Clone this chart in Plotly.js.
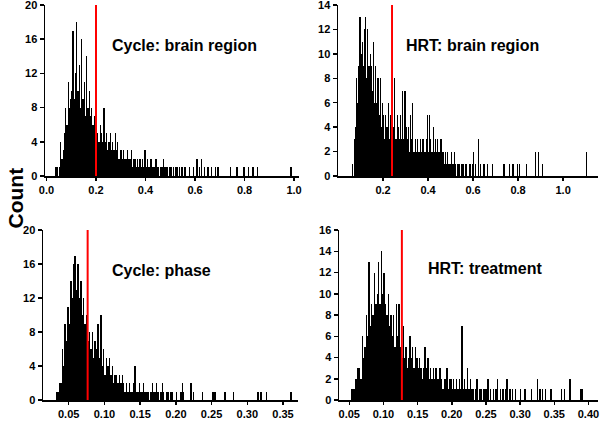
<!DOCTYPE html>
<html>
<head>
<meta charset="utf-8">
<script src="https://cdn.plot.ly/plotly-3.0.1.min.js"></script>
<style>html,body{margin:0;padding:0;background:#fff;}#chart{width:600px;height:421px;}</style>
</head>
<body>
<div id="chart"></div>
<script>
// Panel titles
const panelTitles = ["Cycle: brain region", "HRT: brain region", "Cycle: phase", "HRT: treatment"];
// Histogram bin definitions (left edge of first bin, bin width)
const binStarts = [0.035, 0.060, 0.030, 0.050];
const binWidths = [0.005, 0.005, 0.002, 0.002];
// Counts per bin
const countsCycleRegion = [
  1,1,0,1,4,2,3,5,8,6,
  11,8,9,10,17,9,12,18,10,13,
  8,16,9,11,7,14,8,10,7,8,
  6,7,5,6,5,4,6,5,4,8,
  4,5,3,4,5,3,4,3,5,3,
  4,2,3,3,2,3,2,2,3,2,
  2,3,1,2,2,1,2,1,2,1,
  2,1,3,1,2,1,1,2,1,1,
  1,2,1,1,0,1,1,2,1,1,
  1,0,1,1,0,1,0,1,1,0,
  1,0,1,0,1,1,0,0,1,0,
  0,1,0,0,2,0,1,0,2,0,
  1,0,0,1,0,0,1,0,0,1,
  0,1,0,0,0,0,0,0,0,0,
  0,1,0,0,0,0,1,1,0,0,
  0,0,1,0,0,0,1,0,0,1,
  1,0,0,1,0,0,0,0,0,0,
  0,0,0,0,0,0,0,0,0,0,
  0,0,0,0,0,0,0,0,0,0,
  1
];
const countsHrtRegion = [
  1,0,3,4,8,6,9,13,10,11,
  9,12,13,8,12,9,10,9,7,11,
  6,9,6,8,5,8,4,6,5,3,
  5,4,6,3,5,4,2,4,8,3,
  5,4,3,5,3,7,3,7,4,3,
  4,2,5,3,6,2,3,2,3,2,
  2,3,2,3,2,2,3,5,2,5,
  3,2,4,2,3,2,3,2,2,3,
  2,2,1,2,1,2,1,1,2,1,
  1,2,1,0,1,1,0,1,1,1,
  0,1,1,0,1,1,0,1,2,0,
  1,0,3,0,1,0,0,1,1,0,
  1,0,0,0,0,1,0,0,0,0,
  0,0,0,0,0,1,0,0,0,0,
  1,0,0,1,0,0,0,1,0,1,
  0,0,0,0,0,1,0,0,0,0,
  0,0,0,2,0,0,2,0,0,1,
  0,0,0,0,0,0,0,0,0,0,
  0,0,0,0,0,0,0,0,0,0,
  0,0,0,0,0,0,0,0,0,0,
  0,0,0,0,0,0,0,0,2
];
const countsCyclePhase = [
  0,1,1,2,2,6,4,9,7,11,
  9,14,12,16,17,13,16,12,14,10,
  12,9,10,7,8,6,8,5,7,6,
  9,5,10,4,6,3,5,4,5,3,
  4,2,3,3,2,3,2,3,2,1,
  2,1,2,1,1,2,4,1,1,2,
  1,1,2,1,1,1,0,1,2,1,
  1,2,1,0,1,2,1,0,1,1,
  0,1,1,0,0,1,0,0,1,2,
  1,0,0,0,0,2,0,1,0,0,
  0,0,0,1,0,0,0,0,0,0,
  1,1,1,0,0,0,0,0,0,1,
  0,0,0,0,0,1,0,0,0,0,
  0,0,0,0,0,0,0,0,0,0,
  0,0,1,0,1,0,0,0,1,0,
  0,0,0,0,0,0,0,0,0,0,
  0,0,0,0,0,1
];
const countsHrtTreatment = [
  0,1,1,1,2,2,3,3,2,6,
  4,5,8,6,13,7,9,8,12,9,
  10,13,9,14,10,12,9,8,10,7,
  8,6,8,5,9,6,9,5,4,7,
  4,5,3,4,6,4,5,3,5,4,
  3,4,3,2,3,5,3,4,2,3,
  2,3,2,3,2,2,3,2,1,2,
  2,3,1,2,2,1,2,1,2,1,
  2,1,7,1,2,1,3,1,2,1,
  1,0,1,2,0,1,1,0,1,1,
  1,2,0,1,0,1,0,1,2,0,
  1,0,1,0,1,2,0,1,0,1,
  0,1,0,0,0,1,0,0,1,0,
  0,0,0,1,0,0,0,2,0,1,
  0,1,0,1,0,0,0,1,0,0,
  0,0,0,0,0,1,0,1,0,0,
  0,2,0,0,0,0,0,0,0,1,1
];
const allCounts = [countsCycleRegion, countsHrtRegion, countsCyclePhase, countsHrtTreatment];
// Red reference lines (x values)
const redLines = [0.200, 0.240, 0.0765, 0.127];
// Axis settings
const xRanges = [[-0.006, 1.02], [0, 1.155], [0.014, 0.371], [0.035, 0.414]];
const yMax = [20, 14, 20, 16];
const yDtick = [4, 2, 4, 2];
const xTickVals = [[0, 0.2, 0.4, 0.6, 0.8, 1.0], [0.2, 0.4, 0.6, 0.8, 1.0],
                   [0.05, 0.10, 0.15, 0.20, 0.25, 0.30, 0.35], [0.05, 0.10, 0.15, 0.20, 0.25, 0.30, 0.35, 0.40]];
const xTickFmt = ['.1f', '.1f', '.2f', '.2f'];

const W = 600, H = 421;
// pixel boxes of the four plot areas [x0, x1, yTop, yBottom]
const boxes = [[45, 299, 5, 176], [338, 598, 5, 176], [43, 298, 230, 400], [339, 598, 230, 400]];
const titlePos = [[110, 45], [404, 45], [110, 270], [426, 268]];
const FONT = 'Liberation Sans, Arial, sans-serif';

const traces = [];
const layout = {
  width: W, height: H,
  margin: {l: 0, r: 0, t: 0, b: 0},
  paper_bgcolor: '#fff', plot_bgcolor: 'rgba(0,0,0,0)',
  showlegend: false, bargap: 0,
  font: {family: FONT, color: '#000'},
  annotations: [],
};
for (let p = 0; p < 4; p++) {
  const s = p === 0 ? '' : String(p + 1);
  const counts = allCounts[p];
  const xs = counts.map((_, i) => binStarts[p] + binWidths[p] * (i + 0.5));
  traces.push({
    type: 'bar', x: xs, y: counts, width: binWidths[p],
    xaxis: 'x' + s, yaxis: 'y' + s,
    marker: {color: '#000', line: {width: 0}}, hoverinfo: 'skip'
  });
  traces.push({
    type: 'scatter', mode: 'lines', x: [redLines[p], redLines[p]], y: [0, yMax[p]],
    xaxis: 'x' + s, yaxis: 'y' + s,
    line: {color: '#ff0000', width: 2}, hoverinfo: 'skip'
  });
  const b = boxes[p];
  layout['xaxis' + s] = {
    domain: [b[0] / W, b[1] / W], anchor: 'y' + s, range: xRanges[p],
    showgrid: false, zeroline: false, showline: true, linecolor: '#000', linewidth: 1.5,
    ticks: 'outside', ticklen: 3, tickwidth: 1.5, tickcolor: '#000',
    tickvals: xTickVals[p], tickformat: xTickFmt[p], ticklabeloverflow: 'allow',
    tickfont: {size: 11, family: FONT, weight: 'bold', color: '#000'},
    fixedrange: true
  };
  const yt = [];
  for (let v = 0; v <= yMax[p]; v += yDtick[p]) yt.push(v);
  layout['yaxis' + s] = {
    domain: [1 - b[3] / H, 1 - b[2] / H], anchor: 'x' + s, range: [0, yMax[p]],
    showgrid: false, zeroline: false, showline: true, linecolor: '#000', linewidth: 1.5,
    ticks: 'outside', ticklen: 4, tickwidth: 1.5, tickcolor: '#000',
    tickvals: yt, ticklabeloverflow: 'allow',
    tickfont: {size: 11, family: FONT, weight: 'bold', color: '#000'},
    fixedrange: true
  };
  layout.annotations.push({
    text: '<b>' + panelTitles[p] + '</b>', xref: 'paper', yref: 'paper',
    x: titlePos[p][0] / W, y: 1 - titlePos[p][1] / H, xanchor: 'left', yanchor: 'middle',
    showarrow: false, font: {size: 16, family: FONT, color: '#000'}
  });
}
layout.annotations.push({
  text: '<b>Count</b>', xref: 'paper', yref: 'paper', x: 1 / W, y: 1 - 198 / H,
  xanchor: 'left', yanchor: 'middle', textangle: -90, showarrow: false,
  font: {size: 21, family: FONT, color: '#000'}
});
Plotly.newPlot('chart', traces, layout, {staticPlot: true, displayModeBar: false});
</script>
</body>
</html>
